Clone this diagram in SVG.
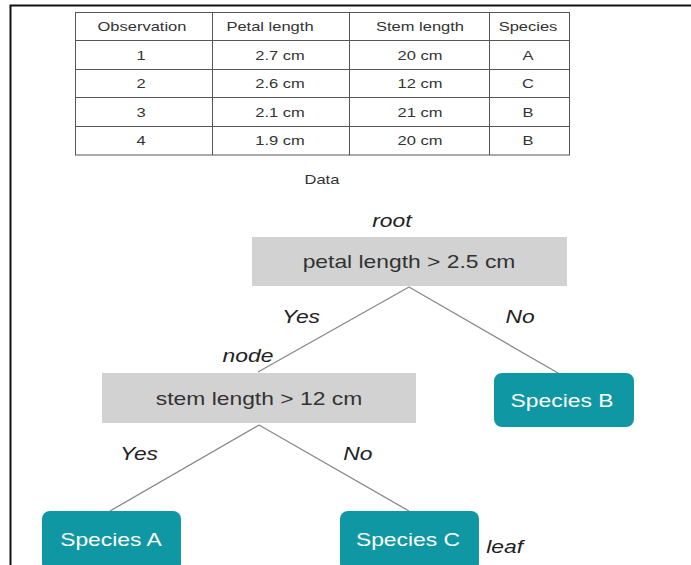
<svg xmlns="http://www.w3.org/2000/svg" width="691" height="565" viewBox="0 0 691 565">
<style>
text{transform-box:fill-box;transform-origin:center;transform:scaleX(1.27)}
.t{font-family:"Liberation Sans",Arial,sans-serif;fill:#333;text-anchor:middle}
.cell{font-size:13px}
.lbl{font-size:18px;font-style:italic;fill:#222}
.dec{fill:#d2d2d2}
.leafbox{fill:#0f97a3}
.leaftxt{font-size:18px;fill:#fff;font-family:"Liberation Sans",Arial,sans-serif;text-anchor:middle}
.grid{stroke:#555;stroke-width:1;fill:none}
.conn{stroke:#888;stroke-width:1.3;fill:none}
</style>
<rect x="0" y="0" width="691" height="565" fill="#fff"/>
<path d="M10.5 565 V5.5 H691" stroke="#111" stroke-width="2" fill="none"/>
<g id="table">
<rect class="grid" x="75.5" y="12.5" width="494" height="142.5"/>
<path class="grid" d="M212.5 12.5V155M349.5 12.5V155M489.5 12.5V155M75.5 40.5H569.5M75.5 69.5H569.5M75.5 97.5H569.5M75.5 126.5H569.5"/>
<g class="t cell">
<text x="142" y="31">Observation</text><text x="270" y="31">Petal length</text><text x="420" y="31">Stem length</text><text x="528" y="31">Species</text>
<text x="141" y="60">1</text><text x="280" y="60">2.7 cm</text><text x="420" y="60">20 cm</text><text x="528" y="60">A</text>
<text x="141" y="88">2</text><text x="280" y="88">2.6 cm</text><text x="420" y="88">12 cm</text><text x="528" y="88">C</text>
<text x="141" y="117">3</text><text x="280" y="117">2.1 cm</text><text x="420" y="117">21 cm</text><text x="528" y="117">B</text>
<text x="141" y="145">4</text><text x="280" y="145">1.9 cm</text><text x="420" y="145">20 cm</text><text x="528" y="145">B</text>
</g>
<text class="t" x="322" y="184" font-size="13">Data</text>
</g>
<g id="connectors">
<path class="conn" d="M409 287L258 372M409 287L558 373M259 425L110 511M259 425L409 511"/>
</g>
<g id="root">
<rect class="dec" x="252" y="237" width="315" height="49"/>
<text class="t" x="409" y="268" font-size="18">petal length &gt; 2.5 cm</text>
</g>
<g id="node">
<rect class="dec" x="102" y="373" width="314" height="50"/>
<text class="t" x="259" y="405" font-size="18">stem length &gt; 12 cm</text>
</g>
<g id="speciesB">
<rect class="leafbox" x="494" y="373" width="140" height="54" rx="8"/>
<text class="leaftxt" x="562" y="407">Species B</text>
</g>
<g id="speciesA">
<rect class="leafbox" x="42" y="511" width="139" height="60" rx="8"/>
<text class="leaftxt" x="111" y="546">Species A</text>
</g>
<g id="speciesC">
<rect class="leafbox" x="340" y="511" width="139" height="60" rx="8"/>
<text class="leaftxt" x="408" y="546">Species C</text>
</g>
<g id="labels" class="t lbl">
<text x="392" y="227">root</text>
<text x="301" y="323">Yes</text>
<text x="520" y="323">No</text>
<text x="248" y="362">node</text>
<text x="139" y="460">Yes</text>
<text x="358" y="460">No</text>
<text x="505" y="553">leaf</text>
</g>
</svg>
